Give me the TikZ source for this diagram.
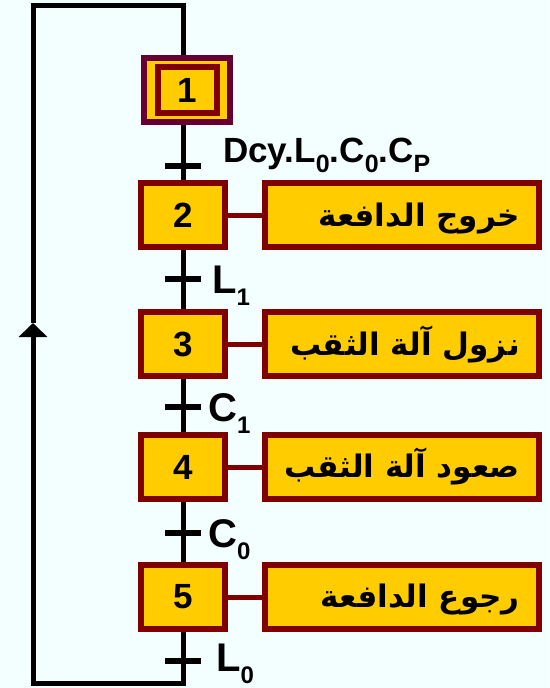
\documentclass[tikz,border=0pt]{standalone}
\usepackage{fontspec}
\setmainfont{Liberation Sans}
\newfontfamily\arabicfont[Script=Arabic]{DejaVu Sans}
\TeXXeTstate=1
\usetikzlibrary{arrows.meta}

\definecolor{bgmint}{RGB}{242,255,254}
\definecolor{stepfill}{RGB}{255,204,0}
\definecolor{stepedge}{RGB}{128,0,0}
\definecolor{initedge}{RGB}{102,0,51}

% lowered index for transition names
\newcommand\lowidx[2]{\raisebox{-0.3em}{\fontsize{#1}{#1}\selectfont #2}}

\begin{document}
\begin{tikzpicture}[x=1pt,y=-1pt,
  stepbox/.style={draw=stepedge, line width=6pt, fill=stepfill,
    minimum width=84pt, minimum height=64pt, inner sep=0pt,
    font=\bfseries\fontsize{35}{35}\selectfont},
  actbox/.style={draw=stepedge, line width=6pt, fill=stepfill,
    minimum width=274pt, minimum height=64pt, inner sep=0pt},
  acttext/.style={anchor=base east, inner sep=0pt,
    font=\arabicfont\bfseries\fontsize{31}{31}\selectfont},
  tbar/.style={fill=black, minimum width=36pt, minimum height=6pt, inner sep=0pt},
  tlabel/.style={anchor=base west, inner sep=0pt,
    font=\bfseries\fontsize{40}{40}\selectfont},
  flow/.style={line width=5pt, black, line join=miter},
  link/.style={line width=5pt, stepedge}]

% canvas
\fill[bgmint] (0,0) rectangle (549,688);
\useasboundingbox (0,0) rectangle (549,688);

% loop-back corners and arrow point
\coordinate (cTL) at (33,5);
\coordinate (cTR) at (183,5);
\coordinate (cBL) at (33,683);
\coordinate (cBR) at (183,683);
\coordinate (cArrow) at (33,323);

% transitions
\node[tbar] (t1) at (183,166) {};
\node[tbar] (t2) at (183,279) {};
\node[tbar] (t3) at (183,407) {};
\node[tbar] (t4) at (183,533) {};
\node[tbar] (t5) at (183,661) {};

% step positions
\path (183,215) coordinate (p2) (183,344) coordinate (p3)
      (183,467) coordinate (p4) (183,597) coordinate (p5);

% initial step, outer frame
\node[draw=initedge, line width=6pt, fill=stepfill,
    minimum width=86pt, minimum height=64pt, inner sep=0pt] (s1) at (187,90) {};

% flow line
\draw[flow] (s1.south -| t1) -- (t1) -- (p2) -- (t2) -- (p3) -- (t3)
  -- (p4) -- (t4) -- (p5) -- (t5) -- (cBR) -- (cBL);
\draw[flow, line cap=rect, -{Triangle[width=28pt,length=14pt]}] (cBL) -- (cArrow);
\draw[flow] (cArrow) -- (cTL) -- (cTR) -- (s1.north -| cTR);

% initial step, redrawn over the line with its inner frame
\node[draw=initedge, line width=6pt, fill=stepfill,
    minimum width=86pt, minimum height=64pt, inner sep=0pt] at (s1) {};
\node[draw=stepedge, line width=6pt, fill=stepfill,
    minimum width=59pt, minimum height=46pt, inner sep=0pt,
    font=\bfseries\fontsize{35}{35}\selectfont] (s1in) at (187.5,90) {1};

% steps and their actions
\node[stepbox] (s2) at (p2) {2};
\node[stepbox] (s3) at (p3) {3};
\node[stepbox] (s4) at (p4) {4};
\node[stepbox] (s5) at (p5) {5};

\node[actbox] (a2) at (402,215) {};
\node[actbox] (a3) at (402,344) {};
\node[actbox] (a4) at (402,467) {};
\node[actbox] (a5) at (402,597) {};

\draw[link] (s2) -- (a2);
\draw[link] (s3) -- (a3);
\draw[link] (s4) -- (a4);
\draw[link] (s5) -- (a5);

\node[acttext] (x2) at (520,226) {\beginR خروج الدافعة\endR};
\node[acttext] (x3) at (520,355) {\beginR نزول آلة الثقب\endR};
\node[acttext] (x4) at (520,477) {\beginR صعود آلة الثقب\endR};
\node[acttext] (x5) at (520,607) {\beginR رجوع الدافعة\endR};

% receptivities
\node[tlabel, font=\bfseries\fontsize{35}{35}\selectfont] (r1) at (223,162)
  {Dcy.L\lowidx{25}{0}.C\lowidx{25}{0}.C\lowidx{25}{P}};
\node[tlabel] (r2) at (212,293) {L\lowidx{24}{1}};
\node[tlabel] (r3) at (208,421) {C\lowidx{24}{1}};
\node[tlabel] (r4) at (208,547) {C\lowidx{24}{0}};
\node[tlabel] (r5) at (216,671) {L\lowidx{24}{0}};
\end{tikzpicture}
\end{document}
